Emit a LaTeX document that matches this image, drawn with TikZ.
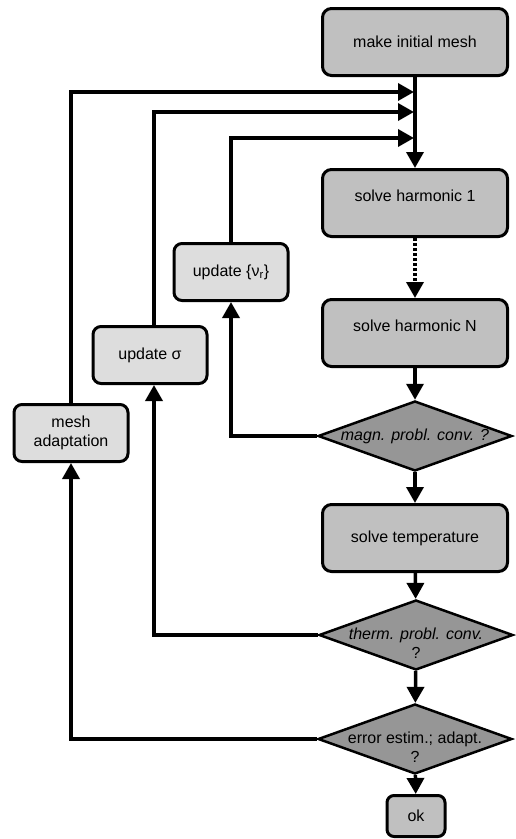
\documentclass[tikz,border=0pt]{standalone}
\usepackage{fontspec}
\setmainfont{Liberation Sans}
\usetikzlibrary{arrows.meta,shapes.geometric}
\definecolor{boxgray}{RGB}{192,192,192}
\definecolor{updgray}{RGB}{221,221,221}
\definecolor{testgray}{RGB}{150,150,150}
\tikzset{
  mainbox/.style={draw, line width=3pt, rounded corners=9pt, fill=boxgray,
    minimum width=185pt, minimum height=67pt, inner sep=0pt},
  harmbox/.style={mainbox, text depth=15pt},
  updbox/.style={draw, line width=3pt, rounded corners=8pt, fill=updgray,
    minimum width=114pt, minimum height=57pt, inner sep=0pt, align=center},
  okbox/.style={mainbox, minimum width=58pt, minimum height=41pt, rounded corners=7pt},
  test/.style={diamond, draw, line width=2.5pt, fill=testgray,
    minimum width=194pt, minimum height=70pt, inner sep=0pt},
  testtext/.style={align=center, yshift=-8pt},
  flow/.style={line width=3.5pt, -{Triangle[length=16pt,width=17pt]}},
}
\begin{document}
\begin{tikzpicture}[x=1pt, y=-1pt, font=\fontsize{16}{19}\selectfont]
\useasboundingbox (0,0) rectangle (515,839);
% main column
\node[mainbox] (init) at (415,42) {make initial mesh};
\node[harmbox] (harm1) at (415,203) {solve harmonic 1};
\node[harmbox] (harmN) at (415,333) {solve harmonic N};
\node[test, label={[align=center]center:\itshape magn. probl. conv. ?}] (magn) at (415,436) {};
\node[mainbox] (temp) at (415,538) {solve temperature};
\node[test, label={[testtext]center:\itshape therm. probl. conv.\\?}] (therm) at (416,635) {};
\node[test, label={[testtext]center:error estim.; adapt.\\?}] (err) at (415,739) {};
\node[okbox] (ok) at (416,816) {ok};
% update boxes
\node[updbox] (updv) at (231,272) {update \{ν\textsubscript{r}\}};
\node[updbox] (upds) at (150,355) {update σ};
\node[updbox] (adapt) at (71,433) {mesh\\adaptation};
% joins on the main line
\coordinate (j1) at (414,92);
\coordinate (j2) at (414,112);
\coordinate (j3) at (414,138);
% forward flow
\draw[flow] (init) -- (harm1);
\draw[flow, dash pattern=on 3pt off 2pt] (harm1) -- (harmN);
\draw[flow] (harmN) -- (magn);
\draw[flow] (magn) -- (temp);
\draw[flow] (temp) -- (therm);
\draw[flow] (therm) -- (err);
\draw[flow] (err) -- (ok);
% loops back
\draw[flow] (magn.west) -| (updv.south);
\draw[flow] (updv.north) |- (j3);
\draw[flow] (therm.west) -| ([xshift=4pt]upds.south);
\draw[flow] ([xshift=4pt]upds.north) |- (j2);
\draw[flow] (err.west) -| (adapt.south);
\draw[flow] (adapt.north) |- (j1);
\end{tikzpicture}
\end{document}
